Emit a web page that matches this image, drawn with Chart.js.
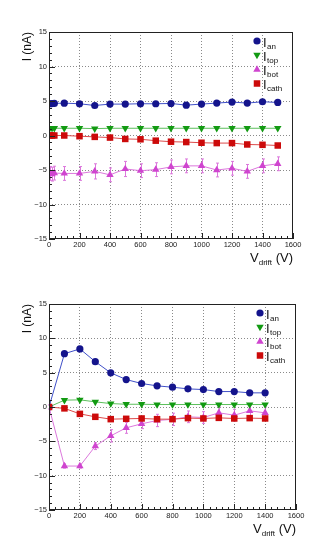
<!DOCTYPE html>
<html><head><meta charset="utf-8">
<script src="https://cdn.jsdelivr.net/npm/chart.js@4.4.1/dist/chart.umd.min.js"></script>
<style>
html,body{margin:0;padding:0;background:#fff;width:333px;height:543px;overflow:hidden}
canvas{position:absolute;left:0}
#c1{top:0}
#c2{top:271px}
</style></head><body>
<canvas id="c1" width="333" height="271"></canvas>
<canvas id="c2" width="333" height="272"></canvas>
<script>
// ---------- data ----------
const seriesNames = ['an', 'top', 'bot', 'cath'];
const xRange = [0, 1600];
const yRange = [-15, 15];
const xMajorStep = 200, xMinorStep = 40;
const yMajorStep = 5, yMinorStep = 1;

// upper panel
const topV     = [5, 20, 35, 100, 200, 300, 400, 500, 600, 700, 800, 900, 1000, 1100, 1200, 1300, 1400, 1500];
const topIan   = [4.6, 4.62, 4.65, 4.69, 4.6, 4.35, 4.55, 4.55, 4.6, 4.6, 4.64, 4.4, 4.55, 4.7, 4.84, 4.7, 4.89, 4.79];
const topItop  = [1.05, 1.05, 1.05, 1.05, 1.05, 1.0, 1.05, 1.05, 1.05, 1.05, 1.05, 1.05, 1.05, 1.05, 1.05, 1.05, 1.05, 1.05];
const topIbot  = [-5.5, -5.6, -5.45, -5.5, -5.5, -5.2, -5.7, -4.85, -5.1, -4.95, -4.55, -4.4, -4.4, -5.0, -4.75, -5.2, -4.4, -4.1];
const topIbotErr = [1.0, 1.0, 1.0, 1.0, 1.0, 1.1, 1.0, 1.1, 1.0, 1.0, 1.0, 1.0, 1.0, 1.0, 1.0, 1.0, 1.0, 1.0];
const topIcath = [0, 0, 0, 0, -0.1, -0.2, -0.3, -0.5, -0.55, -0.75, -0.9, -0.95, -1.05, -1.1, -1.1, -1.3, -1.35, -1.45];

// lower panel
const botV     = [0, 100, 200, 300, 400, 500, 600, 700, 800, 900, 1000, 1100, 1200, 1300, 1400];
const botIan   = [0, 7.76, 8.46, 6.6, 4.97, 4.0, 3.42, 3.08, 2.88, 2.64, 2.54, 2.25, 2.25, 2.06, 2.06];
const botItop  = [0, 1.0, 1.04, 0.75, 0.5, 0.4, 0.4, 0.36, 0.36, 0.36, 0.36, 0.36, 0.36, 0.36, 0.36];
const botIbot  = [0, -8.6, -8.6, -5.7, -4.2, -3.03, -2.45, -1.96, -1.8, -1.43, -1.53, -0.85, -1.19, -0.56, -0.85];
const botIbotErr = [0.3, 0.3, 0.3, 0.5, 0.9, 0.8, 0.7, 0.9, 0.9, 0.85, 0.85, 0.85, 0.85, 0.85, 0.85];
const botIcath = [0, -0.2, -1.0, -1.43, -1.77, -1.72, -1.67, -1.77, -1.77, -1.62, -1.67, -1.58, -1.67, -1.62, -1.67];

// ---------- style ----------
const FONT = "'Liberation Sans', Arial, Helvetica, sans-serif";
const MARK = ['#14148c', '#129a12', '#cf45cf', '#cc0a0a'];
const LINE = ['#4050c8', '#5cbf5c', '#dc78dc', '#dd4a4a'];
const STYLE = ['circle', 'triangle', 'triangle', 'rect'];
const ROT = [0, 180, 0, 0];
const RAD = [3.6, 4.3, 4.3, 4.6];
const ORDER = [1, 2, 3, 0];

function buildDatasets(V, series, err) {
  return series.map((arr, k) => ({
    label: 'I_' + seriesNames[k],
    data: V.map((v, i) => ({x: v, y: arr[i]})),
    borderColor: LINE[k],
    backgroundColor: MARK[k],
    borderWidth: 1,
    pointBackgroundColor: MARK[k],
    pointBorderWidth: 0,
    pointStyle: STYLE[k],
    rotation: ROT[k],
    pointRadius: RAD[k],
    pointHoverRadius: RAD[k],
    tension: 0,
    fill: false,
    order: ORDER[k],
    errY: k === 2 ? err : null
  }));
}

function drawMarker(ctx, k, x, y) {
  ctx.save();
  ctx.fillStyle = MARK[k];
  ctx.beginPath();
  const r = RAD[k];
  if (STYLE[k] === 'circle') {
    ctx.arc(x, y, r, 0, Math.PI * 2);
  } else if (STYLE[k] === 'triangle') {
    const s = ROT[k] === 180 ? -1 : 1;
    const h = r * 0.866;
    ctx.moveTo(x, y - s * r);
    ctx.lineTo(x - h, y + s * r / 2);
    ctx.lineTo(x + h, y + s * r / 2);
    ctx.closePath();
  } else {
    const a = r * Math.SQRT1_2;
    ctx.rect(x - a, y - a, 2 * a, 2 * a);
  }
  ctx.fill();
  ctx.restore();
}

const rootPlugin = {
  id: 'rootStyle',
  beforeDatasetsDraw(chart) {
    const {ctx, scales: {x, y}} = chart;
    chart.data.datasets.forEach((ds, k) => {
      if (!ds.errY) return;
      ctx.save();
      ctx.strokeStyle = LINE[k];
      ctx.lineWidth = 1;
      ds.data.forEach((p, i) => {
        const e = ds.errY[i];
        const px = Math.round(x.getPixelForValue(p.x)) + 0.5;
        const y1 = y.getPixelForValue(p.y + e), y2 = y.getPixelForValue(p.y - e);
        ctx.beginPath();
        ctx.moveTo(px, y1); ctx.lineTo(px, y2);
        ctx.moveTo(px - 1.5, y1); ctx.lineTo(px + 1.5, y1);
        ctx.moveTo(px - 1.5, y2); ctx.lineTo(px + 1.5, y2);
        ctx.stroke();
      });
      ctx.restore();
    });
  },
  afterDraw(chart) {
    const {ctx, chartArea: a, scales: {x, y}} = chart;
    ctx.save();
    // frame
    ctx.strokeStyle = '#222';
    ctx.lineWidth = 1;
    ctx.strokeRect(Math.round(a.left) + 0.5, Math.round(a.top) + 0.5,
                   Math.round(a.right - a.left) - 1, Math.round(a.bottom - a.top) - 1);
    // inward ticks
    ctx.beginPath();
    for (let v = xRange[0]; v <= xRange[1] + 1e-9; v += xMinorStep) {
      const px = Math.round(x.getPixelForValue(v)) + 0.5;
      const len = (Math.abs(v % xMajorStep) < 1e-9) ? 6 : 3;
      ctx.moveTo(px, a.bottom); ctx.lineTo(px, a.bottom - len);
    }
    for (let v = yRange[0]; v <= yRange[1] + 1e-9; v += yMinorStep) {
      const py = Math.round(y.getPixelForValue(v)) + 0.5;
      const len = (Math.abs(v % yMajorStep) < 1e-9) ? 6 : 3;
      ctx.moveTo(a.left, py); ctx.lineTo(a.left + len, py);
    }
    ctx.stroke();

    // legend
    const mx = a.right - 36;
    const dys = [9, 23, 37.5, 51.5];
    seriesNames.forEach((name, k) => {
      const my = a.top + dys[k];
      drawMarker(ctx, k, mx, my);
      ctx.fillStyle = '#111';
      ctx.textAlign = 'left';
      ctx.textBaseline = 'alphabetic';
      ctx.font = '13px ' + FONT;
      ctx.fillText('I', mx + 6, my + 5.5);
      const w = ctx.measureText('I').width;
      ctx.font = '8px ' + FONT;
      ctx.fillText(name, mx + 6 + w + 0.5, my + 7.5);
    });

    // y title
    ctx.save();
    ctx.translate(27.5, a.top);
    ctx.rotate(-Math.PI / 2);
    ctx.font = '12px ' + FONT;
    ctx.textAlign = 'right';
    ctx.textBaseline = 'middle';
    ctx.fillStyle = '#111';
    ctx.fillText('I (nA)', 0, 0);
    ctx.restore();

    // x title
    const parts = [['V', 13, 0], ['drift', 8, 3], [' (V)', 13, 0]];
    let tot = 0;
    parts.forEach(p => { ctx.font = p[1] + 'px ' + FONT; tot += ctx.measureText(p[0]).width; });
    let cx = a.right - tot;
    const base = a.bottom + 22.5;
    ctx.textAlign = 'left';
    ctx.textBaseline = 'alphabetic';
    ctx.fillStyle = '#111';
    parts.forEach(p => {
      ctx.font = p[1] + 'px ' + FONT;
      ctx.fillText(p[0], cx, base + p[2]);
      cx += ctx.measureText(p[0]).width;
    });
    ctx.restore();
  }
};

function makeChart(id, V, series, err, pad, xh) {
  const gridColor = (lo, hi) => (c) => (c.tick && c.tick.value > lo && c.tick.value < hi) ? '#8a8a8a' : 'rgba(0,0,0,0)';
  return new Chart(document.getElementById(id), {
    type: 'line',
    data: {datasets: buildDatasets(V, series, err)},
    options: {
      responsive: false,
      animation: false,
      layout: {padding: pad},
      plugins: {legend: {display: false}, tooltip: {enabled: false}},
      scales: {
        x: {
          type: 'linear', min: xRange[0], max: xRange[1],
          afterFit: s => { s.height = xh; },
          ticks: {stepSize: xMajorStep, padding: 1, maxRotation: 0, autoSkip: false,
                  color: '#222', font: {family: FONT, size: 7.5},
                  callback: v => String(v)},
          grid: {drawTicks: false, color: gridColor(xRange[0], xRange[1]), lineWidth: 1},
          border: {display: false, dash: [1, 2]}
        },
        y: {
          type: 'linear', min: yRange[0], max: yRange[1],
          afterFit: s => { s.width = 49; },
          ticks: {stepSize: yMajorStep, padding: 2, color: '#222', font: {family: FONT, size: 7.5},
                  callback: v => v < 0 ? '\u2212' + Math.abs(v) : String(v)},
          grid: {drawTicks: false, color: gridColor(yRange[0], yRange[1]), lineWidth: 1},
          border: {display: false, dash: [1, 2]}
        }
      }
    },
    plugins: [rootPlugin]
  });
}

makeChart('c1', topV, [topIan, topItop, topIbot, topIcath], topIbotErr,
          {left: 0, top: 32, right: 40, bottom: 0}, 32);
makeChart('c2', botV, [botIan, botItop, botIbot, botIcath], botIbotErr,
          {left: 0, top: 33, right: 37, bottom: 0}, 33);
</script>
</body></html>
